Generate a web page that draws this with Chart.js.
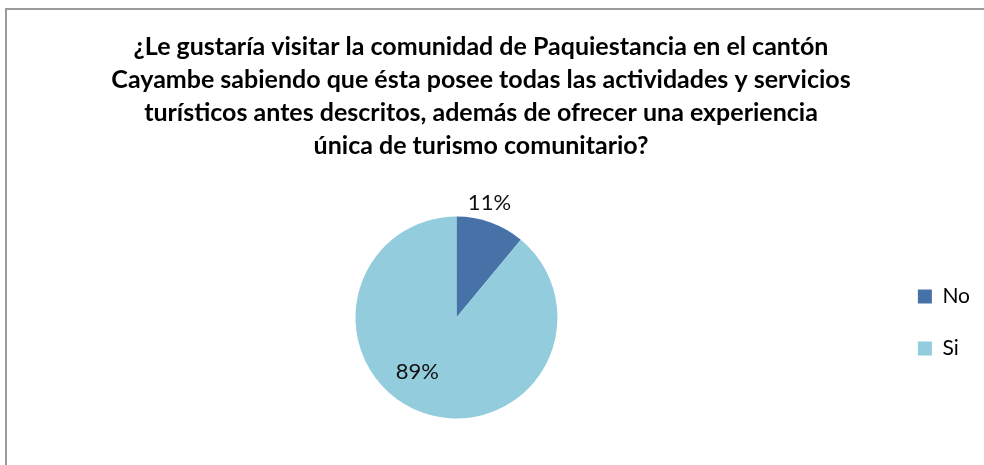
<!DOCTYPE html>
<html>
<head>
<meta charset="utf-8">
<script src="https://cdn.jsdelivr.net/npm/chart.js@4.4.1/dist/chart.umd.min.js"></script>
<style>
  html, body { margin: 0; padding: 0; background: #fff; overflow: hidden; }
  #frame { position: absolute; left: 5px; top: 8px; width: 1200px; height: 600px;
           border-left: 2px solid #9a9a9a; border-top: 2px solid #9a9a9a; }
  #wrap { position: absolute; left: -18px; top: 0; width: 1008px; height: 465px; }
</style>
</head>
<body>
<div id="frame"></div>
<div id="wrap"><canvas id="chart" width="1008" height="465"></canvas></div>
<script>
// ---------- Data ----------
const titleLines = [
  "¿Le gustaría visitar la comunidad de Paquiestancia en el cantón",
  "Cayambe sabiendo que ésta posee todas las actividades y servicios",
  "turísticos antes descritos, además de ofrecer una experiencia",
  "única de turismo comunitario?"
];
const categories = ["No", "Si"];
const values = [11, 89];
const colors = ["#4672A7", "#93CDDD"];
// label placement, Excel "best fit": small slice outside, big slice inside
const labelRadius = [1.18, 0.66];
const labelTurn = [-0.065, 0.28];

const FONT = "Lato, 'Open Sans', 'DejaVu Sans', sans-serif";

// ---------- Plugins ----------
const pctLabels = {
  id: "pctLabels",
  afterDatasetsDraw(chart) {
    const { ctx } = chart;
    const meta = chart.getDatasetMeta(0);
    ctx.save();
    ctx.font = `22px ${FONT}`;
    ctx.fillStyle = "#111";
    ctx.textAlign = "center";
    ctx.textBaseline = "middle";
    meta.data.forEach((arc, i) => {
      const { x, y, startAngle, endAngle, outerRadius } = arc.getProps(["x", "y", "startAngle", "endAngle", "outerRadius"], true);
      const a = (startAngle + endAngle) / 2 + labelTurn[i];
      const r = outerRadius * labelRadius[i];
      ctx.fillText(values[i] + "%", x + Math.cos(a) * r, y + Math.sin(a) * r);
    });
    ctx.restore();
  }
};

// ---------- Chart ----------
const chart = new Chart(document.getElementById("chart"), {
  type: "pie",
  data: {
    labels: categories,
    datasets: [{ data: values, backgroundColor: colors, borderWidth: 0, radius: 101 }]
  },
  options: {
    responsive: false,
    animation: false,
    layout: { padding: { left: 0, right: 10, top: 0, bottom: 2 } },
    plugins: {
      title: {
        display: true,
        text: titleLines,
        color: "#000",
        font: { family: FONT, size: 25, weight: "bold", lineHeight: 33 / 25 },
        padding: { top: 30, bottom: 10 }
      },
      // empty left box, only to push the pie left of the title centre
      subtitle: {
        display: true,
        position: "left",
        fullSize: false,
        text: "",
        padding: 0,
        font: { size: 22, lineHeight: 2 }
      },
      legend: {
        position: "right",
        fullSize: false,
        // blank legend title nudges the items a few px down
        title: { display: true, text: "", padding: 0, font: { size: 10, lineHeight: 1 } },
        labels: {
          boxWidth: 14, boxHeight: 14, padding: 31, color: "#000",
          font: { family: FONT, size: 21 }
        }
      },
      tooltip: { enabled: false }
    }
  },
  plugins: [pctLabels]
});
</script>
</body>
</html>
